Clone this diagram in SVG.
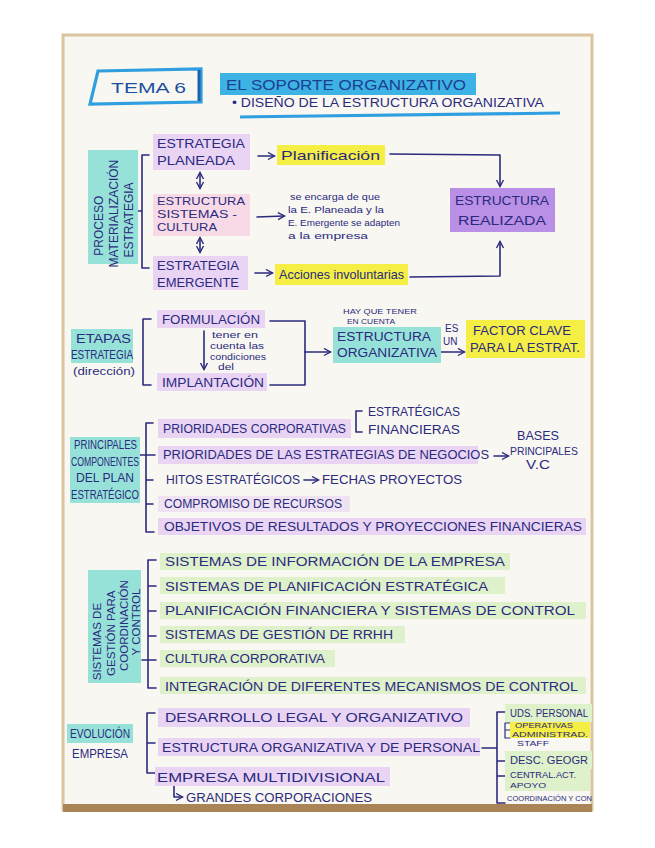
<svg xmlns="http://www.w3.org/2000/svg" width="655" height="848" viewBox="0 0 655 848">
<defs>
<marker id="ah" markerWidth="9" markerHeight="9" refX="7" refY="4.5" orient="auto-start-reverse" markerUnits="userSpaceOnUse"><path d="M1,1 L7.5,4.5 L1,8" fill="none" stroke="#2b2a7e" stroke-width="1.4"/></marker>
<style>
.t{font-family:"Liberation Sans",Arial,sans-serif;fill:#2b2a7e;font-size:12px}
.s{font-size:9.5px}
.xs{font-size:7.5px}
.c{fill:none;stroke:#2b2a7e;stroke-width:1.6;stroke-linecap:round;stroke-linejoin:round}
.hp{fill:#e9d4f4}
.hr{fill:#b990e6}
.hy{fill:#f4ee45}
.ht{fill:#97e2d8}
.hg{fill:#def1ca}
.hk{fill:#f7dae6}
</style>
</defs>
<rect x="0" y="0" width="655" height="848" fill="#ffffff"/>
<rect x="63" y="35" width="529" height="775" fill="#f8f7f1" stroke="#dcc4a0" stroke-width="3"/>
<rect x="63" y="804" width="529" height="8" fill="#a98457"/>

<g id="n-title">
<path d="M98,71 L201,69 L201,102 L90,104 Z" fill="none" stroke="#2f9fe0" stroke-width="3.2"/>
<line x1="199" y1="70" x2="199" y2="101" stroke="#1f5fb0" stroke-width="3"/>
<text class="t" x="111" y="93" style="font-size:15px;fill:#1c4f9f" textLength="75" lengthAdjust="spacingAndGlyphs">TEMA  6</text>
</g>
<g id="n-soporte">
<rect x="220" y="73" width="256" height="22" fill="#3cb2e5"/>
<text class="t" x="226" y="90" style="font-size:14px;fill:#1c3f8f" textLength="240" lengthAdjust="spacingAndGlyphs">EL SOPORTE ORGANIZATIVO</text>
</g>
<g id="n-diseno">
<text class="t" x="232" y="107" style="font-size:12.5px" textLength="312" lengthAdjust="spacingAndGlyphs">• DISEÑO DE LA ESTRUCTURA ORGANIZATIVA</text>
<path d="M240,117 L560,113" fill="none" stroke="#2f9fe0" stroke-width="3"/>
</g>

<g id="connectors">
<path class="c" d="M149,155 L142,155 L142,268 L149,268 M142,211 L136,211"/>
<line class="c" x1="200" y1="173" x2="200" y2="188" marker-start="url(#ah)" marker-end="url(#ah)"/>
<line class="c" x1="200" y1="238" x2="200" y2="252" marker-start="url(#ah)" marker-end="url(#ah)"/>
<line class="c" x1="258" y1="156" x2="274" y2="156" marker-end="url(#ah)"/>
<path class="c" d="M390,154 L500,155 L500,186" marker-end="url(#ah)"/>
<line class="c" x1="257" y1="217" x2="284" y2="216" marker-end="url(#ah)"/>
<line class="c" x1="255" y1="273" x2="272" y2="273" marker-end="url(#ah)"/>
<path class="c" d="M410,277 L500,276 L500,242" marker-end="url(#ah)"/>
<path class="c" d="M151,319 L143,319 L143,385 L151,385"/>
<line class="c" x1="204" y1="331" x2="204" y2="369" marker-end="url(#ah)"/>
<path class="c" d="M270,321 L305,321 L305,385 L270,385"/>
<line class="c" x1="305" y1="352" x2="330" y2="352" marker-end="url(#ah)"/>
<line class="c" x1="441" y1="352" x2="464" y2="352" marker-end="url(#ah)"/>
<path class="c" d="M153,423 L146,423 L146,532 L154,532 M146,455 L155,455 M146,480 L153,480 M146,504 L153,504 M140,455 L146,455"/>
<path class="c" d="M362,411 L356,411 L356,432 L362,432"/>
<line class="c" x1="494" y1="456" x2="508" y2="456" marker-end="url(#ah)"/>
<line class="c" x1="304" y1="480" x2="318" y2="480" marker-end="url(#ah)"/>
<path class="c" d="M156,560 L148,560 L148,688 L156,688 M148,586 L156,586 M148,611 L156,611 M148,636 L156,636 M148,660 L156,660 M142,660 L148,660"/>
<path class="c" d="M155,713 L147,713 L147,773 L155,773 M147,743 L155,743"/>
<path class="c" d="M174,786 L174,797 L182,797" marker-end="url(#ah)"/>
<path class="c" d="M482,748 L497,748 M505,712 L497,712 L497,803 L505,803 M497,761 L505,761 M497,776 L505,776"/>
<path class="c" d="M510,723 L505,723 L505,738 L510,738 M505,730 L510,730" style="stroke-width:1.2"/>
</g>

<g id="n-proceso">
<rect x="88" y="150" width="50" height="114" class="ht"/>
<text class="t" transform="translate(103,212) rotate(-90)" text-anchor="middle" style="font-size:12px">
<tspan x="-12" dy="0">PROCESO</tspan>
<tspan x="0" dy="15">MATERIALIZACIÓN</tspan>
<tspan x="-8" dy="15">ESTRATEGIA</tspan>
</text>
</g>
<g id="n-planeada">
<rect x="153" y="134" width="97" height="36" class="hp"/>
<text class="t" x="157" y="148" textLength="88" lengthAdjust="spacingAndGlyphs">ESTRATEGIA</text>
<text class="t" x="157" y="165" textLength="78" lengthAdjust="spacingAndGlyphs">PLANEADA</text>
</g>
<g id="n-estructura">
<rect x="153" y="194" width="97" height="42" class="hk"/>
<text class="t" x="157" y="205" style="font-size:10.5px" textLength="88" lengthAdjust="spacingAndGlyphs">ESTRUCTURA</text>
<text class="t" x="157" y="218" style="font-size:10.5px" textLength="80" lengthAdjust="spacingAndGlyphs">SISTEMAS -</text>
<text class="t" x="157" y="231" style="font-size:10.5px" textLength="60" lengthAdjust="spacingAndGlyphs">CULTURA</text>
</g>
<g id="n-emergente">
<rect x="153" y="256" width="95" height="34" class="hp"/>
<text class="t" x="157" y="270" textLength="82" lengthAdjust="spacingAndGlyphs">ESTRATEGIA</text>
<text class="t" x="157" y="287" textLength="82" lengthAdjust="spacingAndGlyphs">EMERGENTE</text>
</g>
<g id="n-planificacion">
<rect x="277" y="145" width="108" height="20" class="hy"/>
<text class="t" x="281" y="160" style="font-size:13px" textLength="99" lengthAdjust="spacingAndGlyphs">Planificación</text>
</g>
<g id="n-nota">
<text class="t s" x="290" y="200" textLength="90" lengthAdjust="spacingAndGlyphs">se encarga de que</text>
<text class="t s" x="288" y="213" textLength="96" lengthAdjust="spacingAndGlyphs">la E. Planeada y la</text>
<text class="t s" x="288" y="226" textLength="112" lengthAdjust="spacingAndGlyphs">E. Emergente se adapten</text>
<text class="t s" x="288" y="239" textLength="80" lengthAdjust="spacingAndGlyphs">a la empresa</text>
</g>
<g id="n-realizada">
<rect x="450" y="188" width="105" height="44" class="hr"/>
<text class="t" x="455" y="205" textLength="94" lengthAdjust="spacingAndGlyphs">ESTRUCTURA</text>
<text class="t" x="458" y="225" textLength="88" lengthAdjust="spacingAndGlyphs">REALIZADA</text>
</g>
<g id="n-acciones">
<rect x="275" y="264" width="133" height="21" class="hy"/>
<text class="t" x="279" y="279" style="font-size:13px" textLength="125" lengthAdjust="spacingAndGlyphs">Acciones involuntarias</text>
</g>

<g id="n-etapas">
<rect x="71" y="329" width="62" height="34" class="ht"/>
<text class="t" x="76" y="343" textLength="55" lengthAdjust="spacingAndGlyphs">ETAPAS</text>
<text class="t" x="71" y="359" textLength="62" lengthAdjust="spacingAndGlyphs">ESTRATEGIA</text>
<text class="t" x="73" y="375" style="font-size:11px" textLength="62" lengthAdjust="spacingAndGlyphs">(dirección)</text>
</g>
<g id="n-formulacion">
<rect x="157" y="310" width="108" height="18" class="hp"/>
<text class="t" x="162" y="324" textLength="98" lengthAdjust="spacingAndGlyphs">FORMULACIÓN</text>
</g>
<g id="n-tener">
<text class="t s" x="212" y="338" textLength="46" lengthAdjust="spacingAndGlyphs">tener en</text>
<text class="t s" x="210" y="349" textLength="54" lengthAdjust="spacingAndGlyphs">cuenta las</text>
<text class="t s" x="210" y="360" textLength="56" lengthAdjust="spacingAndGlyphs">condiciones</text>
<text class="t s" x="218" y="370" textLength="16" lengthAdjust="spacingAndGlyphs">del</text>
</g>
<g id="n-implantacion">
<rect x="157" y="373" width="110" height="18" class="hp"/>
<text class="t" x="162" y="387" textLength="102" lengthAdjust="spacingAndGlyphs">IMPLANTACIÓN</text>
</g>
<g id="n-organizativa">
<text class="t" x="343" y="314" style="font-size:8px" textLength="74" lengthAdjust="spacingAndGlyphs">HAY QUE TENER</text>
<text class="t" x="347" y="323.5" style="font-size:7px" textLength="48" lengthAdjust="spacingAndGlyphs">EN CUENTA</text>
<rect x="333" y="327" width="108" height="36" class="ht"/>
<text class="t" x="337" y="341" textLength="94" lengthAdjust="spacingAndGlyphs">ESTRUCTURA</text>
<text class="t" x="337" y="357" textLength="100" lengthAdjust="spacingAndGlyphs">ORGANIZATIVA</text>
<text class="t" x="445" y="332" style="font-size:10px">ES</text>
<text class="t" x="443" y="345" style="font-size:10px">UN</text>
</g>
<g id="n-factor">
<rect x="466" y="320" width="119" height="38" class="hy"/>
<text class="t" x="473" y="335" textLength="98" lengthAdjust="spacingAndGlyphs">FACTOR CLAVE</text>
<text class="t" x="470" y="352" textLength="110" lengthAdjust="spacingAndGlyphs">PARA LA ESTRAT.</text>
</g>

<g id="n-principales">
<rect x="70" y="437" width="70" height="66" class="ht"/>
<text class="t" x="74" y="449" textLength="63" lengthAdjust="spacingAndGlyphs">PRINCIPALES</text>
<text class="t" x="71" y="466" textLength="68" lengthAdjust="spacingAndGlyphs">COMPONENTES</text>
<text class="t" x="76" y="482" textLength="58" lengthAdjust="spacingAndGlyphs">DEL PLAN</text>
<text class="t" x="71" y="499" textLength="68" lengthAdjust="spacingAndGlyphs">ESTRATÉGICO</text>
</g>
<g id="n-corporativas">
<rect x="158" y="419" width="193" height="19" class="hp"/>
<text class="t" x="163" y="433" textLength="183" lengthAdjust="spacingAndGlyphs">PRIORIDADES CORPORATIVAS</text>
<text class="t" x="368" y="416" textLength="92" lengthAdjust="spacingAndGlyphs">ESTRATÉGICAS</text>
<text class="t" x="368" y="434" textLength="92" lengthAdjust="spacingAndGlyphs">FINANCIERAS</text>
</g>
<g id="n-negocios">
<rect x="158" y="446" width="320" height="18" class="hp"/>
<text class="t" x="163" y="459" textLength="326" lengthAdjust="spacingAndGlyphs">PRIORIDADES DE LAS ESTRATEGIAS DE NEGOCIOS</text>
<text class="t" x="517" y="440" textLength="42" lengthAdjust="spacingAndGlyphs">BASES</text>
<text class="t" x="510" y="455" style="font-size:11px" textLength="68" lengthAdjust="spacingAndGlyphs">PRINCIPALES</text>
<text class="t" x="526" y="469" textLength="24" lengthAdjust="spacingAndGlyphs">V.C</text>
</g>
<g id="n-hitos">
<text class="t" x="166" y="484" textLength="134" lengthAdjust="spacingAndGlyphs">HITOS ESTRATÉGICOS</text>
<text class="t" x="322" y="484" textLength="140" lengthAdjust="spacingAndGlyphs">FECHAS PROYECTOS</text>
</g>
<g id="n-compromiso">
<rect x="158" y="496" width="192" height="16" class="hp" opacity="0.6"/>
<text class="t" x="164" y="508" textLength="178" lengthAdjust="spacingAndGlyphs">COMPROMISO DE RECURSOS</text>
</g>
<g id="n-objetivos">
<rect x="158" y="518" width="428" height="17" class="hp"/>
<text class="t" x="164" y="531" textLength="418" lengthAdjust="spacingAndGlyphs">OBJETIVOS DE RESULTADOS Y PROYECCIONES FINANCIERAS</text>
</g>

<g id="n-sistemas">
<rect x="88" y="570" width="53" height="113" class="ht"/>
<text class="t" transform="translate(101,628) rotate(-90)" text-anchor="middle" style="font-size:11.5px">
<tspan x="-12" dy="0">SISTEMAS DE</tspan>
<tspan x="-4" dy="14">GESTIÓN PARA</tspan>
<tspan x="4" dy="13">COORDINACIÓN</tspan>
<tspan x="6" dy="12">Y CONTROL</tspan>
</text>
</g>
<g id="n-s1">
<rect x="160" y="553" width="350" height="17" class="hg"/>
<text class="t" x="165" y="566" textLength="340" lengthAdjust="spacingAndGlyphs">SISTEMAS DE INFORMACIÓN DE LA EMPRESA</text>
</g>
<g id="n-s2">
<rect x="160" y="577" width="345" height="17" class="hg"/>
<text class="t" x="165" y="591" textLength="323" lengthAdjust="spacingAndGlyphs">SISTEMAS DE PLANIFICACIÓN ESTRATÉGICA</text>
</g>
<g id="n-s3">
<rect x="160" y="602" width="426" height="17" class="hg"/>
<text class="t" x="165" y="615" textLength="410" lengthAdjust="spacingAndGlyphs">PLANIFICACIÓN FINANCIERA Y SISTEMAS DE CONTROL</text>
</g>
<g id="n-s4">
<rect x="160" y="626" width="245" height="17" class="hg"/>
<text class="t" x="165" y="639" textLength="228" lengthAdjust="spacingAndGlyphs">SISTEMAS DE GESTIÓN DE RRHH</text>
</g>
<g id="n-s5">
<rect x="160" y="650" width="175" height="17" class="hg"/>
<text class="t" x="165" y="663" textLength="160" lengthAdjust="spacingAndGlyphs">CULTURA CORPORATIVA</text>
</g>
<g id="n-s6">
<rect x="160" y="677" width="426" height="17" class="hg"/>
<text class="t" x="165" y="691" textLength="413" lengthAdjust="spacingAndGlyphs">INTEGRACIÓN DE DIFERENTES MECANISMOS DE CONTROL</text>
</g>

<g id="n-evolucion">
<rect x="67" y="724" width="66" height="19" class="ht"/>
<text class="t" x="70" y="738" textLength="60" lengthAdjust="spacingAndGlyphs">EVOLUCIÓN</text>
<text class="t" x="72" y="758" textLength="56" lengthAdjust="spacingAndGlyphs">EMPRESA</text>
</g>
<g id="n-desarrollo">
<rect x="158" y="708" width="312" height="19" class="hp"/>
<text class="t" x="165" y="722" style="font-size:13px" textLength="298" lengthAdjust="spacingAndGlyphs">DESARROLLO LEGAL Y ORGANIZATIVO</text>
</g>
<g id="n-personal">
<rect x="158" y="738" width="322" height="18" class="hp"/>
<text class="t" x="162" y="752" style="font-size:13px" textLength="318" lengthAdjust="spacingAndGlyphs">ESTRUCTURA ORGANIZATIVA Y DE PERSONAL</text>
</g>
<g id="n-multidivisional">
<rect x="155" y="767" width="235" height="19" class="hp"/>
<text class="t" x="157" y="782" style="font-size:13px" textLength="228" lengthAdjust="spacingAndGlyphs">EMPRESA MULTIDIVISIONAL</text>
<text class="t" x="186" y="802" textLength="186" lengthAdjust="spacingAndGlyphs">GRANDES CORPORACIONES</text>
</g>
<g id="n-uds">
<rect x="505" y="704" width="87" height="18" class="hg"/>
<text class="t" x="510" y="717" style="font-size:10px" textLength="78" lengthAdjust="spacingAndGlyphs">UDS. PERSONAL</text>
<rect x="510" y="722" width="80" height="16" class="hy"/>
<text class="t xs" x="515" y="728" textLength="58" lengthAdjust="spacingAndGlyphs">OPERATIVAS</text>
<text class="t xs" x="512" y="737" textLength="76" lengthAdjust="spacingAndGlyphs">ADMINISTRAD.</text>
<text class="t xs" x="517" y="746" textLength="32" lengthAdjust="spacingAndGlyphs">STAFF</text>
</g>
<g id="n-desc">
<rect x="505" y="751" width="87" height="18" class="hg"/>
<text class="t" x="510" y="764" style="font-size:10px" textLength="78" lengthAdjust="spacingAndGlyphs">DESC. GEOGR</text>
</g>
<g id="n-central">
<rect x="505" y="769" width="85" height="22" class="hg"/>
<text class="t" x="510" y="778" style="font-size:9px" textLength="66" lengthAdjust="spacingAndGlyphs">CENTRAL.ACT.</text>
<text class="t" x="510" y="788" style="font-size:8px" textLength="36" lengthAdjust="spacingAndGlyphs">APOYO</text>
</g>
<g id="n-coord">
<text class="t xs" x="507" y="801" textLength="85" lengthAdjust="spacingAndGlyphs">COORDINACIÓN Y CON</text>
</g>
</svg>
